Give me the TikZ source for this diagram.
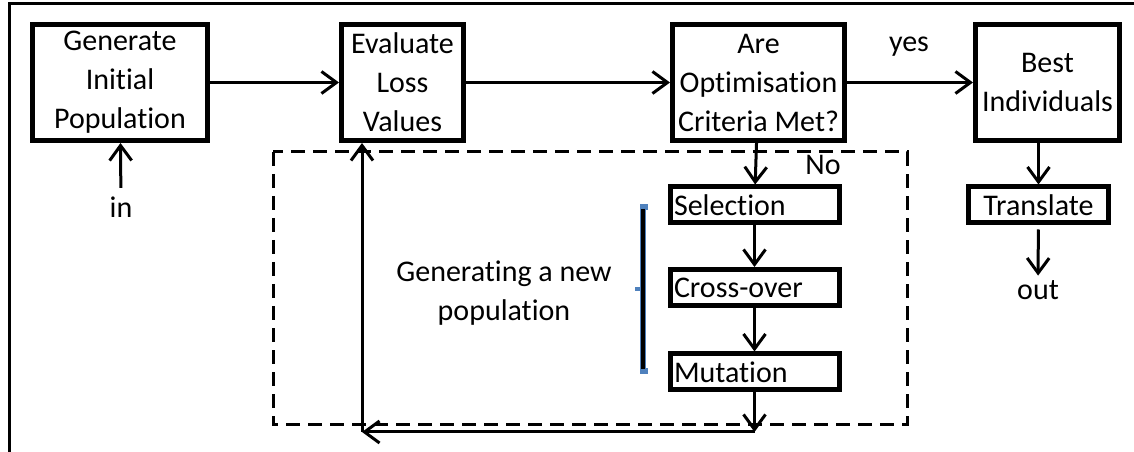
\documentclass[tikz,border=0pt]{standalone}
\usepackage{fontspec}
\setmainfont{Carlito}[RawFeature={-liga;-clig;-calt;-dlig}]
\usetikzlibrary{arrows.meta,positioning}
\definecolor{bracketblue}{RGB}{79,129,189}

\begin{document}
\begin{tikzpicture}[x=1bp,y=-1bp,->,>={Straight Barb[length=15bp,width=22bp]},line width=3bp,
  every node/.style={font=\fontsize{30bp}{39bp}\selectfont},
  box/.style={draw,line width=5bp,align=center,inner sep=3bp,minimum height=116bp},
  smallbox/.style={draw,line width=5bp,minimum height=36bp,text width=161bp,align=left,inner xsep=4bp,inner ysep=2bp}]
\useasboundingbox (0,0) rectangle (1134,452);
% frame and the loop region
\draw[-,line width=3bp] (9,452) -- (9,4) -- (1134,4);
\draw[-,dash pattern=on 14bp off 8bp,line width=3bp] (273,152) rectangle (907,425);

\node[box,minimum width=175bp] (gen) at (120,82.5) {Generate\\Initial\\Population};
\node[box,minimum width=122bp] (eval) at (402.5,82.5) {Evaluate\\Loss\\Values};
\node[box,minimum width=172bp] (opt) at (758.5,82.5) {Are\\Optimisation\\Criteria Met?};
\node[box,minimum width=144bp] (best) at (1047.5,82.5) {Best\\Individuals};
\node[smallbox] (sel) at (754.5,205) {Selection};
\node[smallbox] (cross) at (754.5,287.5) {Cross-over};
\node[smallbox] (mut) at (754.5,372) {Mutation};
\node[smallbox,text width=132bp,align=center] (trans) at (1038.5,205) {Translate};

\node (in) at (121,207) {in};
\node (out) at (1038,290) {out};
\node (yes) at (909,47) {yes};
\node (no) at (823,165) {No};
\node[align=center] (newpop) at (504,293) {Generating a new\\population};

% bracket
\draw[-,bracketblue,line width=6bp] (648,207) -- (643,207) -- (643,371) -- (648,371);
\draw[-,bracketblue,line width=4bp] (643,289) -- (635,289);
\draw[-,black,line width=4bp] (643,209) -- (643,369);

\coordinate (mutlow) at (754.5,432);
\coordinate (evallow) at (362,432);

\path (gen) edge (eval)
	(eval) edge (opt)
	(opt) edge (best)
	(opt) edge (sel)
	(sel) edge (cross)
	(cross) edge (mut)
	(trans.north |- best.south) edge (trans.north)
	(trans) edge[shorten <=4bp] (out)
	(in) edge[shorten <=4bp] (gen);
\path (mut) edge (mutlow)
	(mutlow) edge (evallow)
	(evallow) edge (evallow |- eval.south);
\end{tikzpicture}
\end{document}
